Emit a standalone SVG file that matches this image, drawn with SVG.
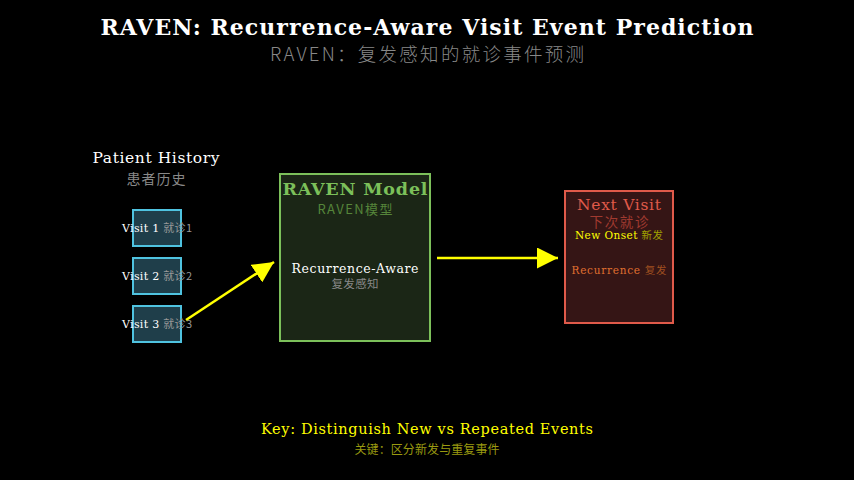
<svg xmlns="http://www.w3.org/2000/svg" width="854" height="480" viewBox="0 0 854 480">
<defs>
<marker id="ah" viewBox="0 0 10 10" refX="10" refY="5" markerWidth="21" markerHeight="21" orient="auto" markerUnits="userSpaceOnUse">
<path d="M0,0 L10,5 L0,10 z" fill="#ffff00"/>
</marker>
<style>
.en{font-family:"DejaVu Serif",serif}
.zh{font-family:"Noto Sans CJK SC",sans-serif}
.visit{fill:#1f3e4a;stroke:#4fc3e0;stroke-width:2}
.conn{stroke:#ffff00;stroke-width:2.5;fill:none;marker-end:url(#ah)}
</style>
</defs>
<rect width="854" height="480" fill="#000"/>
<g id="title">
<text x="427" y="35" text-anchor="middle" class="en" font-size="22" font-weight="bold" fill="#fff" textLength="653" lengthAdjust="spacing">RAVEN: Recurrence-Aware Visit Event Prediction</text>
<text x="427" y="61" text-anchor="middle" class="zh" font-size="18.5" font-weight="300" fill="#888" textLength="314" lengthAdjust="spacing">RAVEN：复发感知的就诊事件预测</text>
</g>
<g id="history">
<text x="156" y="163" text-anchor="middle" class="en" font-size="15.5" fill="#fff" textLength="127" lengthAdjust="spacing">Patient History</text>
<text x="156" y="184" text-anchor="middle" class="zh" font-size="14" fill="#888" textLength="59" lengthAdjust="spacing">患者历史</text>
</g>
<g id="visit1">
<rect class="visit" x="133" y="210" width="48" height="36"/>
<text x="157" y="232" text-anchor="middle" font-size="11" textLength="70" lengthAdjust="spacing"><tspan font-family="DejaVu Serif, serif" fill="#fff">Visit 1 </tspan><tspan font-family="Noto Sans CJK SC, sans-serif" fill="#999">就诊1</tspan></text>
</g>
<g id="visit2">
<rect class="visit" x="133" y="258" width="48" height="36"/>
<text x="157" y="280" text-anchor="middle" font-size="11" textLength="70" lengthAdjust="spacing"><tspan font-family="DejaVu Serif, serif" fill="#fff">Visit 2 </tspan><tspan font-family="Noto Sans CJK SC, sans-serif" fill="#999">就诊2</tspan></text>
</g>
<g id="visit3">
<rect class="visit" x="133" y="306" width="48" height="36"/>
<text x="157" y="328" text-anchor="middle" font-size="11" textLength="70" lengthAdjust="spacing"><tspan font-family="DejaVu Serif, serif" fill="#fff">Visit 3 </tspan><tspan font-family="Noto Sans CJK SC, sans-serif" fill="#999">就诊3</tspan></text>
</g>
<g id="model">
<rect x="280" y="174" width="150" height="167" fill="#1b2616" stroke="#7cc05a" stroke-width="2"/>
<text x="355" y="195" text-anchor="middle" class="en" font-size="17.5" font-weight="bold" fill="#7cc05a" textLength="145" lengthAdjust="spacing">RAVEN Model</text>
<text x="355" y="214" text-anchor="middle" class="zh" font-size="13" fill="#55853a" textLength="75" lengthAdjust="spacing">RAVEN模型</text>
<text x="355" y="273" text-anchor="middle" class="en" font-size="12.5" fill="#fff" textLength="127" lengthAdjust="spacing">Recurrence-Aware</text>
<text x="355" y="288" text-anchor="middle" class="zh" font-size="11.5" fill="#888" textLength="47" lengthAdjust="spacing">复发感知</text>
</g>
<g id="next">
<rect x="565" y="191" width="108" height="132" fill="#351515" stroke="#e05a4a" stroke-width="2"/>
<text x="619" y="210" text-anchor="middle" class="en" font-size="15.5" fill="#e05a4a" textLength="84" lengthAdjust="spacing">Next Visit</text>
<text x="619" y="227" text-anchor="middle" class="zh" font-size="13.5" fill="#a03a30" textLength="59" lengthAdjust="spacing">下次就诊</text>
<text x="619" y="239" text-anchor="middle" font-size="10.5" textLength="88" lengthAdjust="spacing"><tspan font-family="DejaVu Serif, serif" fill="#ffff00">New Onset </tspan><tspan font-family="Noto Sans CJK SC, sans-serif" fill="#a0a000">新发</tspan></text>
<text x="619" y="274" text-anchor="middle" font-size="10.5" textLength="95" lengthAdjust="spacing"><tspan font-family="DejaVu Serif, serif" fill="#e07030">Recurrence </tspan><tspan font-family="Noto Sans CJK SC, sans-serif" fill="#a05020">复发</tspan></text>
</g>
<g id="connectors">
<line class="conn" x1="186" y1="320" x2="274" y2="262"/>
<line class="conn" x1="437" y1="258" x2="558" y2="258"/>
</g>
<g id="key">
<text x="427" y="434" text-anchor="middle" class="en" font-size="14.5" fill="#ffff00" textLength="332" lengthAdjust="spacing">Key: Distinguish New vs Repeated Events</text>
<text x="427" y="454" text-anchor="middle" class="zh" font-size="12" fill="#9a9a10" textLength="145" lengthAdjust="spacing">关键：区分新发与重复事件</text>
</g>
</svg>
